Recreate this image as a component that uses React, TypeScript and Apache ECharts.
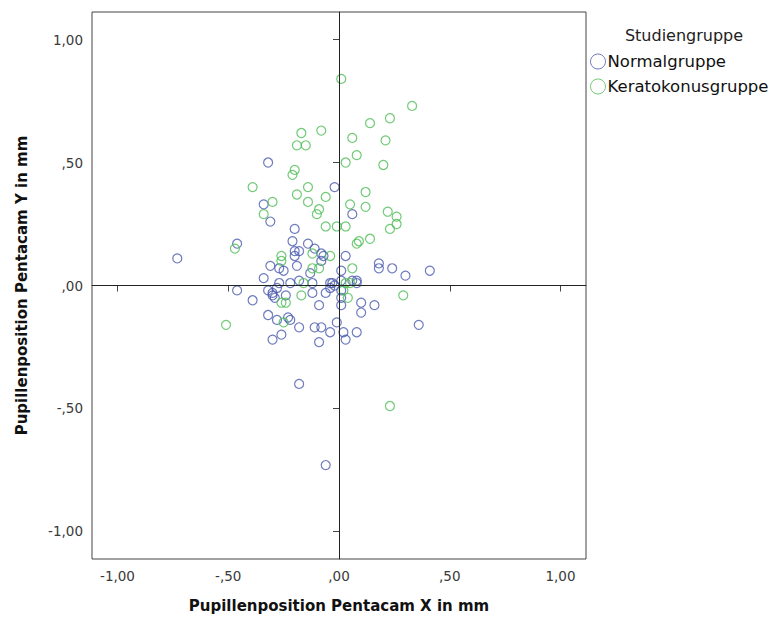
import React, { useEffect, useRef } from "react";
import * as echarts from "echarts";

const seriesNames = ["Normalgruppe", "Keratokonusgruppe"];
const legendTitle = "Studiengruppe";
const xTitle = "Pupillenposition Pentacam X in mm";
const yTitle = "Pupillenposition Pentacam Y in mm";
const tickValues = [-1, -0.5, 0, 0.5, 1];

const normalgruppe: number[][] = [
  [-0.73, 0.11], [-0.46, 0.17], [-0.46, -0.02], [-0.39, -0.06], [-0.34, 0.33],
  [-0.32, 0.5], [-0.31, 0.26], [-0.2, 0.23], [-0.21, 0.18], [-0.14, 0.17],
  [-0.2, 0.14], [-0.18, 0.14], [-0.11, 0.15], [-0.08, 0.13], [-0.07, 0.12],
  [-0.2, 0.12], [0.03, 0.12], [-0.02, 0.4], [0.06, 0.29], [-0.08, 0.1],
  [-0.31, 0.08], [-0.27, 0.07], [-0.25, 0.06], [-0.19, 0.08], [-0.13, 0.05],
  [0.01, 0.06], [0.18, 0.09], [0.18, 0.07], [0.24, 0.07], [0.41, 0.06],
  [0.3, 0.04], [-0.34, 0.03], [-0.27, 0.01], [-0.22, 0.01], [-0.18, 0.02],
  [-0.12, 0.01], [-0.04, 0.01], [-0.02, 0.0], [0.01, 0.02], [0.06, 0.02],
  [0.08, 0.02], [-0.32, -0.02], [-0.3, -0.03], [-0.29, -0.05], [-0.3, -0.04],
  [-0.28, -0.01], [-0.24, -0.04], [-0.12, -0.03], [-0.06, -0.03], [-0.04, -0.01],
  [0.01, -0.02], [0.01, -0.05], [-0.09, -0.08], [0.01, -0.08], [0.1, -0.07],
  [0.16, -0.08], [0.1, -0.11], [-0.32, -0.12], [-0.28, -0.14], [-0.23, -0.13],
  [-0.22, -0.14], [-0.18, -0.17], [-0.11, -0.17], [-0.08, -0.17], [-0.04, -0.19],
  [-0.01, -0.15], [0.02, -0.19], [0.08, -0.19], [0.36, -0.16], [-0.26, -0.2],
  [-0.3, -0.22], [-0.09, -0.23], [0.03, -0.22], [-0.18, -0.4], [-0.06, -0.73],
  [-0.03, 0.01], [0.08, 0.01],
];

const keratokonusgruppe: number[][] = [
  [0.01, 0.84], [0.33, 0.73], [0.23, 0.68], [0.14, 0.66], [-0.17, 0.62],
  [-0.08, 0.63], [0.06, 0.6], [0.21, 0.59], [-0.19, 0.57], [-0.15, 0.57],
  [0.08, 0.53], [0.03, 0.5], [0.2, 0.49], [-0.2, 0.47], [-0.21, 0.45],
  [-0.39, 0.4], [-0.14, 0.4], [0.12, 0.38], [-0.19, 0.37], [-0.06, 0.36],
  [-0.3, 0.34], [-0.14, 0.34], [0.05, 0.33], [0.12, 0.32], [-0.09, 0.31],
  [-0.1, 0.29], [-0.34, 0.29], [0.22, 0.3], [0.26, 0.28], [0.26, 0.25],
  [0.23, 0.23], [-0.06, 0.24], [-0.01, 0.24], [0.03, 0.24], [0.14, 0.19],
  [0.09, 0.18], [0.08, 0.17], [-0.47, 0.15], [-0.26, 0.12], [-0.26, 0.1],
  [-0.12, 0.13], [-0.04, 0.12], [-0.12, 0.07], [-0.09, 0.07], [0.06, 0.07],
  [-0.16, 0.01], [0.03, 0.01], [0.05, 0.01], [0.02, -0.02], [-0.17, -0.04],
  [0.04, -0.05], [0.29, -0.04], [-0.26, -0.07], [-0.24, -0.07], [-0.25, -0.15],
  [-0.51, -0.16], [0.23, -0.49],
];

const BLUE = "#4a5aae";
const GREEN = "#4dbd55";
const FONT = "DejaVu Sans";

function fmt(v: number): string {
  const s = Math.abs(v).toFixed(2).replace(".", ",");
  const t = s.startsWith("0") ? s.slice(1) : s;
  return (v < 0 ? "-" : "") + t;
}

export default function App() {
  const ref = useRef<HTMLDivElement>(null);
  useEffect(() => {
    if (!ref.current) return;
    const chart = echarts.init(ref.current, null, { renderer: "svg" });
    const axisCommon = {
      type: "value" as const,
      splitLine: { show: false },
      axisLine: { show: true, lineStyle: { color: "#444", width: 1 } },
      axisTick: {
        show: true,
        inside: false,
        length: 6,
        customValues: tickValues,
        lineStyle: { color: "#444", width: 1 },
      },
      axisLabel: {
        customValues: tickValues,
        formatter: (v: number) => fmt(v),
        color: "#3a3a3a",
        fontSize: 13.5,
        fontFamily: FONT,
      },
      nameLocation: "middle" as const,
      nameTextStyle: {
        fontFamily: FONT,
        fontWeight: "bold" as const,
        fontSize: 15,
        color: "#111",
      },
    };
    chart.setOption({
      animation: false,
      textStyle: { fontFamily: FONT },
      grid: {
        left: 92,
        right: 185,
        top: 12,
        bottom: 65,
        show: true,
        borderColor: "#444",
        borderWidth: 1,
        backgroundColor: "#fff",
      },
      title: {
        text: legendTitle,
        left: 679,
        top: 22,
        textAlign: "center",
        textStyle: {
          fontFamily: FONT,
          fontSize: 16,
          fontWeight: "normal",
          color: "#222",
        },
      },
      legend: {
        orient: "vertical",
        left: 590,
        top: 53,
        padding: 0,
        itemWidth: 15,
        itemHeight: 15,
        itemGap: 8,
        textStyle: { fontFamily: FONT, fontSize: 16.5, color: "#111", padding: [0, 0, 0, -3] },
        data: [
          {
            name: seriesNames[0],
            icon: "circle",
            itemStyle: { color: "transparent", borderColor: BLUE, borderWidth: 1 },
          },
          {
            name: seriesNames[1],
            icon: "circle",
            itemStyle: { color: "transparent", borderColor: GREEN, borderWidth: 1 },
          },
        ],
      },
      xAxis: {
        ...axisCommon,
        min: -1.115,
        max: 1.115,
        name: xTitle,
        nameGap: 39,
        axisLabel: { ...axisCommon.axisLabel, margin: 10 },
      },
      yAxis: {
        ...axisCommon,
        min: -1.112,
        max: 1.112,
        name: yTitle,
        nameGap: 63,
        axisLabel: { ...axisCommon.axisLabel, margin: 9 },
      },
      series: [
        {
          name: seriesNames[0],
          type: "scatter",
          symbol: "circle",
          symbolSize: 9,
          data: normalgruppe,
          itemStyle: { color: "transparent", borderColor: BLUE, borderWidth: 1.2 },
          markLine: {
            silent: true,
            symbol: "none",
            label: { show: false },
            lineStyle: { color: "#222", type: "solid", width: 1 },
            data: [{ xAxis: 0 }, { yAxis: 0 }],
          },
          z: 3,
        },
        {
          name: seriesNames[1],
          type: "scatter",
          symbol: "circle",
          symbolSize: 9,
          data: keratokonusgruppe,
          itemStyle: { color: "transparent", borderColor: GREEN, borderWidth: 1.2 },
          z: 3,
        },
      ],
    });
    return () => chart.dispose();
  }, []);
  return (
    <div
      ref={ref}
      style={{ position: "absolute", left: 0, top: 0, width: 771, height: 624, background: "#fff" }}
    />
  );
}
